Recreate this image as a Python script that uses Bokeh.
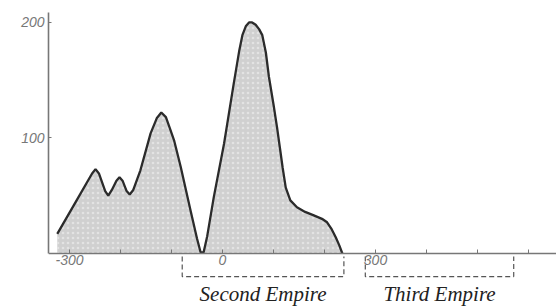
from bokeh.plotting import figure
from bokeh.models import Range1d, FixedTicker, ColumnDataSource
from bokeh.core.properties import value
from bokeh.embed import file_html
from bokeh.resources import INLINE

# ---- data ----
years = [-324, -290, -256, -249, -242, -230, -224, -217, -208, -202, -196,
         -188, -182, -175, -161, -141, -129, -120, -111, -103, -95, -82,
         -62, -50, -43, -37, -30, -17, 3, 22, 33, 39, 46, 52, 58, 65, 72,
         78, 85, 91, 100, 107, 113, 118, 124, 133, 146, 162, 179, 195,
         205, 214, 222, 229, 235]
values = [17, 43, 69, 73, 69, 54, 50, 55, 63, 66, 63,
          54, 51, 55, 72, 104, 117, 122, 118, 108, 98, 75,
          36, 13, 1, 1, 15, 49, 95, 147, 176, 189, 197, 200, 200, 198, 194,
          189, 174, 153, 129, 109, 90, 74, 57, 46, 40, 36, 33, 30,
          27, 21, 14, 7, 0]

empires = ["Second Empire", "Third Empire"]
empire_start = [-79, 280]
empire_end = [238, 571]

x_ticks = [-300, -200, -100, 0, 100, 200, 300, 400, 500, 600]
x_tick_labels = {-300: "-300", 0: "0", 300: "300"}
y_ticks = [100, 200]
y_tick_labels = {100: "100", 200: "200"}

# ---- figure ----
p = figure(frame_width=508, frame_height=306,
           x_range=Range1d(-341.2, 654.9), y_range=Range1d(-45.9, 219.0),
           output_backend="svg", toolbar_location=None,
           min_border_left=48, min_border_right=0,
           min_border_top=0, min_border_bottom=0)
p.outline_line_color = None
p.grid.visible = False
p.background_fill_color = "white"
p.border_fill_color = "white"

src = ColumnDataSource(dict(x=years, y=values, base=[0] * len(years)))
p.varea(x="x", y1="base", y2="y", source=src, fill_color="#d0d0d0",
        hatch_pattern="dot", hatch_color="#e8e8e8", hatch_scale=5,
        hatch_alpha=0.8)
p.line(x="x", y="y", source=src, line_color="#2b2b2b", line_width=2.3)

# empire brackets
top, bottom = -2.6, -20
xs = [[s, s, e, e] for s, e in zip(empire_start, empire_end)]
ys = [[top, bottom, bottom, top] for _ in empires]
p.multi_line(xs=xs, ys=ys, line_color="#555555", line_width=1.2,
             line_dash="5 3")
mids = [(s + e) / 2 for s, e in zip(empire_start, empire_end)]
p.text(x=mids, y=[-35] * len(empires), text=empires,
       text_font=value("Liberation Serif"), text_font_style="italic",
       text_font_size="21px", text_color="#222222",
       text_align="center", text_baseline="alphabetic")

# axes
xa = p.xaxis[0]
xa.fixed_location = 0
xa.ticker = FixedTicker(ticks=x_ticks)
xa.major_label_overrides = {t: x_tick_labels.get(t, "") for t in x_ticks}
xa.minor_tick_line_color = None
xa.major_tick_in = 4
xa.major_tick_out = 0
xa.axis_line_color = "#777777"
xa.axis_line_width = 1.6
xa.major_tick_line_color = "#777777"
xa.major_label_standoff = 2
xa.major_label_text_font = "Liberation Sans"
xa.major_label_text_font_style = "italic"
xa.major_label_text_font_size = "14px"
xa.major_label_text_color = "#777777"

ya = p.yaxis[0]
ya.bounds = (0, 209)
ya.ticker = FixedTicker(ticks=y_ticks)
ya.major_label_overrides = y_tick_labels
ya.minor_tick_line_color = None
ya.major_tick_in = 3
ya.major_tick_out = 0
ya.axis_line_color = "#777777"
ya.axis_line_width = 1.6
ya.major_tick_line_color = "#777777"
ya.major_label_standoff = 4
ya.major_label_text_font = "Liberation Sans"
ya.major_label_text_font_style = "italic"
ya.major_label_text_font_size = "14px"
ya.major_label_text_color = "#777777"
ya.major_label_orientation = "horizontal"

open("out.html", "w").write(file_html(p, INLINE))
